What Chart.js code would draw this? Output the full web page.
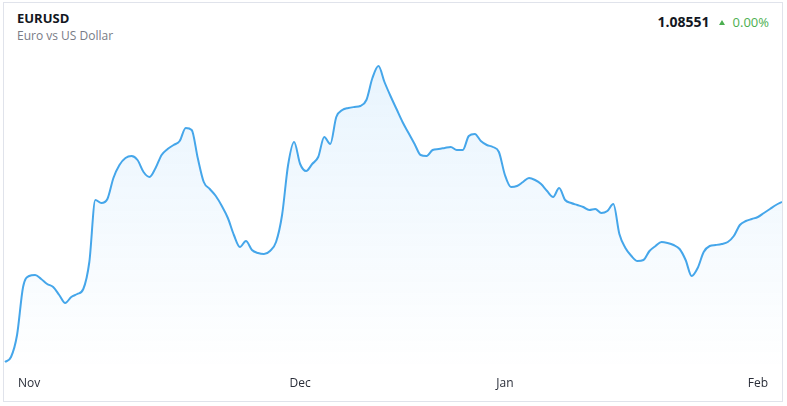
<!DOCTYPE html>
<html>
<head>
<meta charset="utf-8">
<script src="https://cdn.jsdelivr.net/npm/chart.js@4.4.1/dist/chart.umd.min.js"></script>
<style>
  html, body { margin: 0; padding: 0; background: #fff; }
  body { width: 787px; height: 406px; position: relative; overflow: hidden; font-family: "Open Sans", "Noto Sans", sans-serif; }
  .box { position: absolute; left: 3px; top: 2px; width: 778px; height: 398px; border: 1px solid #e0e3eb; }
  .sym { position: absolute; left: 17px; top: 9px; font-size: 13px; font-weight: 700; color: #131722; }
  .desc { position: absolute; left: 17px; top: 27px; font-size: 12px; color: #787b86; }
  .quote { position: absolute; right: 18px; top: 10px; white-space: nowrap; }
  .last { font-size: 14px; font-weight: 700; color: #131722; }
  .chg { font-size: 13px; color: #4caf50; margin-left: 9px; }
  .tri { display: inline-block; width: 0; height: 0; border-left: 3.5px solid transparent; border-right: 3.5px solid transparent; border-bottom: 5px solid #4caf50; vertical-align: 2px; margin-right: 8px; }
  .wrap { position: absolute; left: 4px; top: 40px; width: 778px; height: 360px; }
</style>
</head>
<body>
<div class="box"></div>
<div class="sym">EURUSD</div>
<div class="desc">Euro vs US Dollar</div>
<div class="quote"><span class="last">1.08551</span><span class="chg"><span class="tri"></span>0.00%</span></div>
<div class="wrap"><canvas id="chart"></canvas></div>
<script>
// daily closes
const closes = [
  1.0535, 1.0545, 1.0589, 1.0685, 1.0707, 1.0709, 1.0701, 1.0691, 1.0685, 1.0669,
  1.0653, 1.0665, 1.0671, 1.0681, 1.0735, 1.0859, 1.0853, 1.0861, 1.0903, 1.0929,
  1.0943, 1.0947, 1.0939, 1.0915, 1.0905, 1.0923, 1.0949, 1.0961, 1.0969, 1.0977,
  1.1003, 1.0999, 1.0943, 1.0895, 1.0881, 1.0867, 1.0847, 1.0823, 1.0789, 1.0765,
  1.0777, 1.0759, 1.0753, 1.0751, 1.0757, 1.0775, 1.0829, 1.0929, 1.0975, 1.0931,
  1.0917, 1.0931, 1.0945, 1.0985, 1.0971, 1.1025, 1.1039, 1.1043, 1.1045, 1.1047,
  1.1059, 1.1103, 1.1127, 1.1095, 1.1067, 1.1041, 1.1015, 1.0993, 1.0971, 1.0949,
  1.0947, 1.0959, 1.0961, 1.0963, 1.0965, 1.0959, 1.0959, 1.0987, 1.0991, 1.0977,
  1.0969, 1.0965, 1.0955, 1.0909, 1.0885, 1.0887, 1.0895, 1.0903, 1.0899, 1.0891,
  1.0877, 1.0865, 1.0883, 1.0859, 1.0853, 1.0849, 1.0845, 1.0839, 1.0841, 1.0833,
  1.0837, 1.0851, 1.0791, 1.0763, 1.0747, 1.0737, 1.0739, 1.0757, 1.0767, 1.0775,
  1.0773, 1.0769, 1.0761, 1.0739, 1.0707, 1.0723, 1.0755, 1.0767, 1.0769, 1.0771,
  1.0775, 1.0787, 1.0809, 1.0817, 1.0821, 1.0825, 1.0833, 1.0841, 1.0849, 1.0855
];

// where the month names sit along the axis
const monthTicks = { 4: 'Nov', 49: 'Dec', 83: 'Jan', 125: 'Feb' };
const labels = closes.map((_, i) => monthTicks[i] || '');

const yMin = 1.0519;
const yMax = 1.1179;

const ctx = document.getElementById('chart');

new Chart(ctx, {
  type: 'line',
  data: {
    labels: labels,
    datasets: [{
      label: 'EURUSD',
      data: closes,
      borderColor: '#45a6ea',
      borderWidth: 2,
      pointRadius: 0,
      cubicInterpolationMode: 'monotone',
      fill: 'start',
      backgroundColor: (c) => {
        const area = c.chart.chartArea;
        if (!area) return 'rgba(33,150,243,0.08)';
        const g = c.chart.ctx.createLinearGradient(0, area.top, 0, area.bottom);
        g.addColorStop(0, 'rgba(33,150,243,0.11)');
        g.addColorStop(1, 'rgba(33,150,243,0)');
        return g;
      }
    }]
  },
  options: {
    responsive: true,
    maintainAspectRatio: false,
    animation: false,
    layout: { padding: { left: 1, right: 0, top: 0, bottom: 0 } },
    plugins: { legend: { display: false }, tooltip: { enabled: false } },
    scales: {
      x: {
        offset: false,
        grid: { display: false, drawTicks: false },
        border: { display: false },
        afterFit: (s) => {
          s.height = 30;
          s.paddingLeft = 0;
          s.paddingRight = 0;
        },
        ticks: {
          autoSkip: false,
          maxRotation: 0,
          padding: 6,
          color: '#2a2e39',
          font: { family: 'Open Sans', size: 12 }
        }
      },
      y: {
        display: false,
        min: yMin,
        max: yMax
      }
    }
  }
});
</script>
</body>
</html>
